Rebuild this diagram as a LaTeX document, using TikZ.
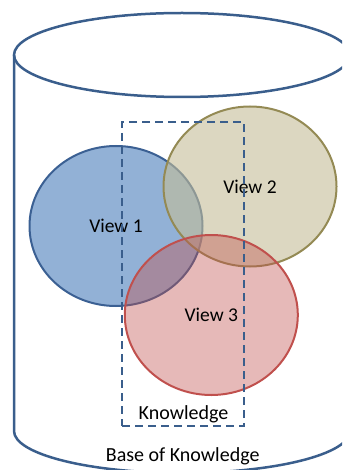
\documentclass[tikz,border=0pt]{standalone}
\usepackage{fontspec}
\setmainfont{Carlito}
\usetikzlibrary{shapes.geometric}
\definecolor{baseblue}{HTML}{3A5E8C}
\definecolor{viewblue}{HTML}{4F81BD}
\definecolor{viewblueline}{HTML}{3B6093}
\definecolor{viewtan}{HTML}{C4BD97}
\definecolor{viewtanline}{HTML}{948A54}
\definecolor{viewred}{HTML}{C0504D}
\definecolor{viewredline}{HTML}{C0504D}
\begin{document}
\begin{tikzpicture}[x=1pt,y=-1pt,
  container/.style={draw=baseblue, line width=2.5pt},
  view/.style={ellipse, minimum width=173pt, minimum height=160pt, inner sep=0pt,
    line width=2pt, text opacity=1, font=\fontsize{19.5}{23}\selectfont},
  kbox/.style={draw=baseblue, line width=2.3pt, dash pattern=on 8pt off 5pt,
    minimum width=122pt, minimum height=304pt, inner sep=0pt},
  lbl/.style={anchor=base, inner sep=0pt, font=\fontsize{20}{24}\selectfont}]
\useasboundingbox (0,0) rectangle (342,470);
\clip (0,0) rectangle (342,470);

% knowledge base container (cylinder, right wall runs past the frame)
\draw[container] (14,55) -- (14,431)
  arc[start angle=180, end angle=360, x radius=168pt, y radius=42pt] -- (350,55);
\draw[container] (182,55) ellipse [x radius=168pt, y radius=42pt];

% overlapping views
\node[view, fill=viewblue, fill opacity=0.62, draw=viewblueline] (v1) at (116,226) {View 1};
\node[view, fill=viewtan, fill opacity=0.6, draw=viewtanline] (v2) at (250,186.5) {View 2};
\node[view, fill=viewred, fill opacity=0.4, draw=viewredline] (v3) at (211.3,315) {View 3};

% shared knowledge region
\node[kbox] (kb) at (183,274) {};
\node[lbl] (klabel) at (183.5,419.3) {Knowledge};

% container caption
\node[lbl] (blabel) at (182.7,461) {Base of Knowledge};
\end{tikzpicture}
\end{document}
